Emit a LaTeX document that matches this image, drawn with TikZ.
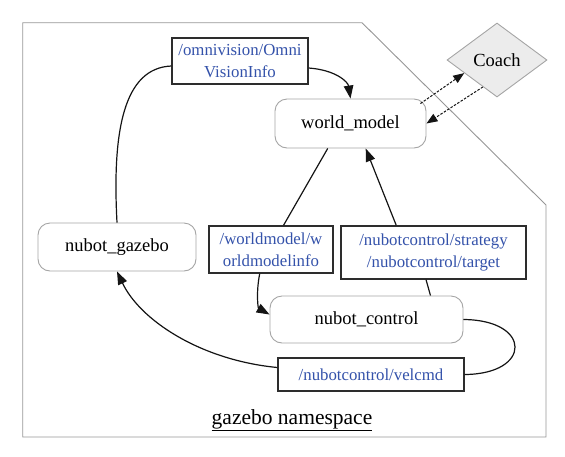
\documentclass[tikz,border=0pt]{standalone}
\usepackage{fontspec}
\setmainfont{Liberation Serif}
\usetikzlibrary{arrows.meta,shapes.geometric,calc}
\definecolor{topicblue}{RGB}{52,82,170}
\definecolor{nsgrey}{RGB}{150,150,150}
\definecolor{nodegrey}{RGB}{165,165,165}
\definecolor{topicframe}{RGB}{45,45,45}
\definecolor{edgecol}{RGB}{20,20,20}
\definecolor{coachfill}{RGB}{236,236,236}
\begin{document}
\begin{tikzpicture}[x=1pt,y=-1pt,
  procnode/.style={draw=nodegrey, line width=0.9pt, rounded corners=12pt, inner sep=0pt, fill=white, font=\fontsize{18.5}{21}\selectfont},
  topicnode/.style={draw=topicframe, line width=1.4pt, inner sep=0pt, fill=white, align=center, text=topicblue, font=\fontsize{16.8}{22}\selectfont},
  edge/.style={draw=edgecol, line width=1.2pt},
  arr/.style={-{Triangle[length=13pt,width=9.5pt]}},
  dashedge/.style={draw=edgecol, line width=1pt, dash pattern=on 2.5pt off 1.5pt},
  darr/.style={-{Triangle[length=11pt,width=8.5pt]}}
]
\useasboundingbox (0,0) rectangle (565,456);
% namespace border
\draw[nsgrey, line width=0.9pt] (22.7,22.7) -- (362,22.7) -- (546,205) -- (546,437) -- (22.7,437) -- cycle;

% nodes
\node[topicnode, minimum width=136pt, minimum height=46pt] (omni) at (240,61) {/omnivision/Omni\\VisionInfo};
\node[procnode, minimum width=151pt, minimum height=49pt] (wm) at (350.5,123.5) {world\_model};
\node[diamond, draw=nodegrey, fill=coachfill, line width=0.9pt, aspect=1.35, minimum width=100pt, minimum height=74pt, inner sep=0pt, font=\fontsize{18.5}{21}\selectfont] (coach) at (497,60) {Coach};
\node[procnode, minimum width=158pt, minimum height=48pt] (gazebo) at (117,247) {nubot\_gazebo};
\node[topicnode, minimum width=124pt, minimum height=47pt] (wmi) at (271,249.5) {/worldmodel/w\\orldmodelinfo};
\node[topicnode, minimum width=185pt, minimum height=53pt] (strat) at (433.5,252.5) {/nubotcontrol/strategy\\/nubotcontrol/target};
\node[procnode, minimum width=193pt, minimum height=47pt] (control) at (366.5,319.5) {nubot\_control};
\node[topicnode, minimum width=186pt, minimum height=33pt] (vel) at (371,374.5) {/nubotcontrol/velcmd};
\node[font=\fontsize{21.5}{24}\selectfont] (ns) at (292,420) {\underline{gazebo namespace}};

% edges
\draw[edge] (gazebo.north) .. controls (112,130) and (124,68) .. ([yshift=-5pt]omni.west);
\draw[edge,arr] ([yshift=-7pt]omni.east) .. controls (336,70) and (348,82) .. (wm.north);
\draw[edge] ($(wm.south west)!0.35!(wm.south east)$) -- ($(wmi.north west)!0.6!(wmi.north east)$);
\draw[edge,arr] ($(wmi.south west)!0.41!(wmi.south east)$) .. controls (256,292) and (258,308) .. ([yshift=5pt]control.west);
\draw[edge] ($(control.north west)!0.83!(control.north east)$) -- ($(strat.south west)!0.46!(strat.south east)$);
\draw[edge,arr] ($(strat.north west)!0.30!(strat.north east)$) -- ($(wm.south west)!0.6!(wm.south east)$);
\draw[edge] (control.east) .. controls (532,320) and (532,374) .. (vel.east);
\draw[edge,arr] ([yshift=7pt]vel.west) .. controls (200,360) and (140,320) .. (gazebo.south);
\draw[dashedge,darr] ($(wm.north east)+(-6,5)$) -- ($(coach.west)!0.35!(coach.south)$);
\draw[dashedge,darr] ($(coach.west)!0.72!(coach.south)$) -- (wm.east);
\end{tikzpicture}
\end{document}
